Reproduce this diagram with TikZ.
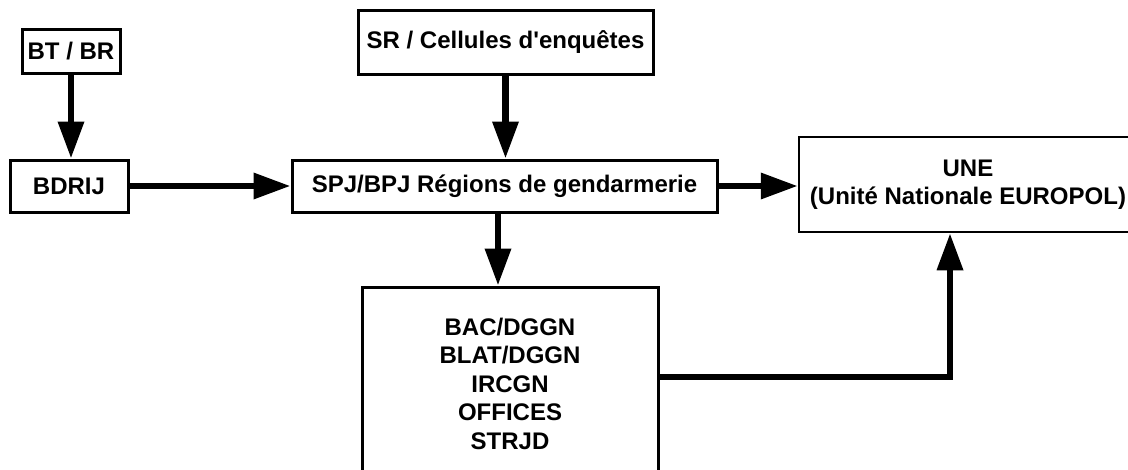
\documentclass[tikz,border=0pt]{standalone}
\usepackage{fontspec}
\setmainfont{Liberation Sans}
\usetikzlibrary{arrows.meta, calc}
\tikzset{
  every picture/.style={font=\bfseries\fontsize{24}{28.5}\selectfont, line width=3pt},
  box/.style={draw=black, fill=white, rectangle, align=center, inner sep=0pt, minimum width=#1},
  arrow/.style={-{Triangle[length=37pt, width=25pt]}, draw=black, line width=6.5pt},
}

\begin{document}
\begin{tikzpicture}[x=1pt, y=-1pt]
  \useasboundingbox (0,0) rectangle (1128,469);
  \clip (0,0) rectangle (1128,469);
  % boxes
  \node[box=98pt, minimum height=44pt] (btbr) at (71,51) {BT / BR};
  \node[box=118pt, minimum height=52pt] (bdrij) at (69,186) {BDRIJ};
  \node[box=295pt, minimum height=64pt] (sr) at (505.5,42) {SR / Cellules d\textquotesingle enquêtes};
  \node[box=425pt, minimum height=52pt] (spj) at (504.5,186) {SPJ/BPJ Régions de gendarmerie};
  \node[box=338pt, minimum height=95pt, line width=2.5pt] (une) at (968,184.5) {UNE\\(Unité Nationale EUROPOL)};
  \node[box=296pt, minimum height=193pt] (dggn) at (510,383.5) {BAC/DGGN\\BLAT/DGGN\\IRCGN\\OFFICES\\STRJD};
  % links
  \draw[arrow] (btbr) -- (btbr |- bdrij.north);
  \draw[arrow] (bdrij) -- (spj);
  \draw[arrow] (sr) -- (sr |- spj.north);
  \draw[arrow] (spj.east) -- (spj.east -| une.west);
  \draw[arrow] (spj.south -| 498,0) -- (dggn.north -| 498,0);
  \coordinate (bend) at (950,377);
  \draw[arrow] (dggn.east |- bend) -- (bend) -- (bend |- une.south);
\end{tikzpicture}
\end{document}
